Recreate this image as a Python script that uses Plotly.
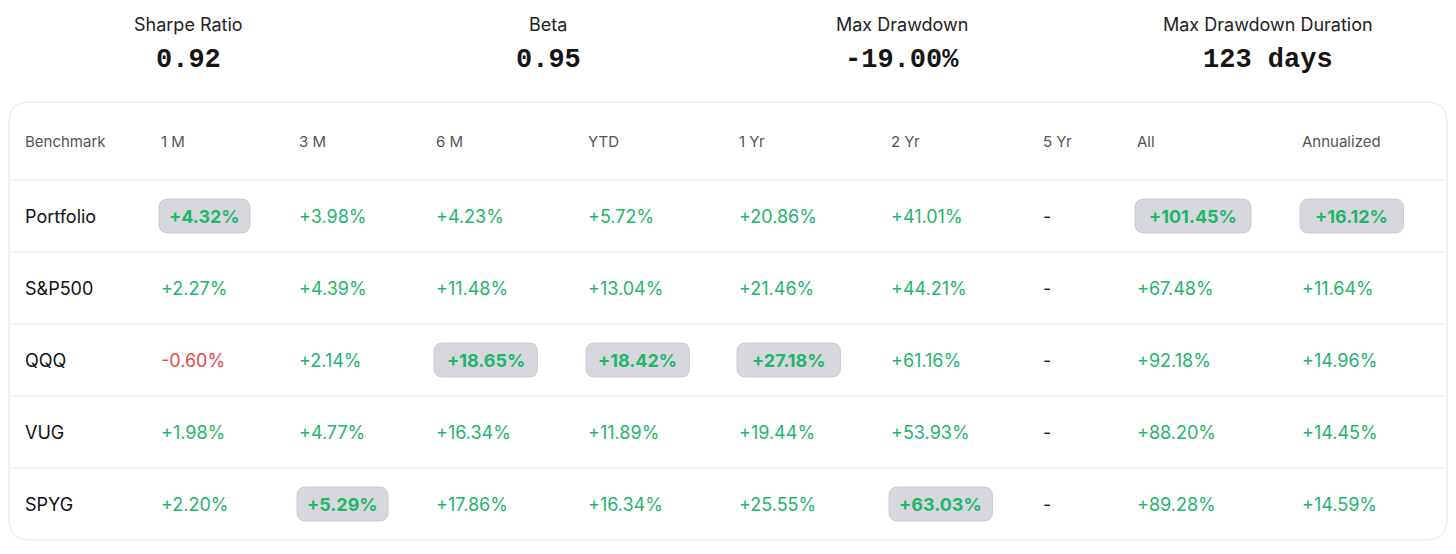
import plotly.graph_objects as go

W, H = 1456, 554

metric_names = ["Sharpe Ratio", "Beta", "Max Drawdown", "Max Drawdown Duration"]
metric_values = ["0.92", "0.95", "-19.00%", "123 days"]

periods = ["Benchmark", "1 M", "3 M", "6 M", "YTD", "1 Yr", "2 Yr", "5 Yr", "All", "Annualized"]
benchmarks = ["Portfolio", "S&P500", "QQQ", "VUG", "SPYG"]
portfolio = ["+4.32%", "+3.98%", "+4.23%", "+5.72%", "+20.86%", "+41.01%", "-", "+101.45%", "+16.12%"]
sp500 = ["+2.27%", "+4.39%", "+11.48%", "+13.04%", "+21.46%", "+44.21%", "-", "+67.48%", "+11.64%"]
qqq = ["-0.60%", "+2.14%", "+18.65%", "+18.42%", "+27.18%", "+61.16%", "-", "+92.18%", "+14.96%"]
vug = ["+1.98%", "+4.77%", "+16.34%", "+11.89%", "+19.44%", "+53.93%", "-", "+88.20%", "+14.45%"]
spyg = ["+2.20%", "+5.29%", "+17.86%", "+16.34%", "+25.55%", "+63.03%", "-", "+89.28%", "+14.59%"]
# best value per column (highlighted pill): (row, col)
highlights = [(0, 0), (0, 7), (0, 8), (2, 2), (2, 3), (2, 4), (4, 1), (4, 5)]

rows = [portfolio, sp500, qqq, vug, spyg]

col_x = [23, 159, 297, 434, 586, 737, 889, 1041, 1135, 1300]
metric_x = [188, 548, 902, 1268]
header_y = 141
row_y = [216, 288, 360, 432, 504]

GREEN = "#1fb56b"
RED = "#e5484d"
PILL = "#d6d8de"
LINE = "#ececee"
OFF = 8  # page body margin


def rounded(x0, y0, x1, y1, r):
    return (f"M {x0+r} {y0} L {x1-r} {y0} Q {x1} {y0} {x1} {y0+r} L {x1} {y1-r} Q {x1} {y1} {x1-r} {y1} "
            f"L {x0+r} {y1} Q {x0} {y1} {x0} {y1-r} L {x0} {y0+r} Q {x0} {y0} {x0+r} {y0} Z")


fig = go.Figure()
shapes = []
ann = []

# card
shapes.append(dict(type="path", xref="x", yref="y", path=rounded(9, 102, 1447, 540, 20),
                   line=dict(color="#e6e6e8", width=1), fillcolor="white", layer="below"))
for yy in [180, 252, 324, 396, 468]:
    shapes.append(dict(type="line", xref="x", yref="y", x0=10, x1=1446, y0=yy, y1=yy,
                       line=dict(color=LINE, width=1), layer="below"))

for name, val, x in zip(metric_names, metric_values, metric_x):
    ann.append(dict(x=x, y=24, text=name, showarrow=False, xanchor="center", yanchor="middle",
                    font=dict(family="Inter", size=18, color="#222")))
    ann.append(dict(x=x, y=60, text="<b>%s</b>" % val, showarrow=False, xanchor="center", yanchor="middle",
                    font=dict(family="Liberation Mono", size=27, color="#151515")))

for p, x in zip(periods, col_x):
    ann.append(dict(x=x, y=header_y, text=p, showarrow=False, xanchor="left", yanchor="middle",
                    font=dict(family="Inter", size=15, color="#555")))

for r, (b, vals) in enumerate(zip(benchmarks, rows)):
    y = row_y[r]
    ann.append(dict(x=col_x[0], y=y, text=b, showarrow=False, xanchor="left", yanchor="middle",
                    font=dict(family="Inter", size=18, color="#111")))
    for c, v in enumerate(vals):
        x = col_x[c + 1]
        if v == "-":
            color = "#222"
        elif v.startswith("-"):
            color = RED
        else:
            color = GREEN
        if (r, c) in highlights:
            w = 12.5 * len(v) + 16
            shapes.append(dict(type="path", xref="x", yref="y", path=rounded(x, y - 17, x + w, y + 17, 9),
                               fillcolor=PILL, line=dict(color="#c9ccd3", width=1), layer="below"))
            ann.append(dict(x=x + w / 2, y=y, text="<b>%s</b>" % v, showarrow=False, xanchor="center",
                            yanchor="middle", font=dict(family="Inter", size=18, color=color)))
        else:
            ann.append(dict(x=x, y=y, text=v, showarrow=False, xanchor="left", yanchor="middle",
                            font=dict(family="Inter", size=18, color=color)))

fig.update_layout(
    width=W, height=H, margin=dict(l=0, r=0, t=0, b=0),
    paper_bgcolor="white", plot_bgcolor="white",
    xaxis=dict(range=[OFF, W + OFF], visible=False, fixedrange=True),
    yaxis=dict(range=[H + OFF, OFF], visible=False, fixedrange=True),
    shapes=shapes, annotations=ann, showlegend=False,
)
fig.write_html("out.html")
